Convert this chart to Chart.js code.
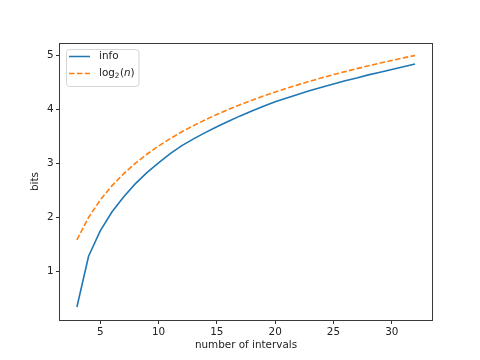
<!DOCTYPE html>
<html>
<head>
<meta charset="utf-8">
<script src="https://cdn.jsdelivr.net/npm/chart.js@4"></script>
<style>
  html, body { margin: 0; padding: 0; background: #fff; }
  #chart { display: block; }
</style>
</head>
<body>
<canvas id="chart" width="480" height="360"></canvas>
<script>
const intervals = [3, 4, 5, 6, 7, 8, 9, 10, 11, 12, 13, 14, 15, 16, 17, 18, 19, 20, 21, 22, 23, 24, 25, 26, 27, 28, 29, 30, 31, 32]
const info = [0.34, 1.28, 1.75, 2.10, 2.38, 2.62, 2.83, 3.01, 3.18, 3.33, 3.455, 3.57, 3.68, 3.78, 3.88, 3.97, 4.06, 4.14, 4.21, 4.28, 4.35, 4.41, 4.47, 4.53, 4.58, 4.64, 4.69, 4.74, 4.79, 4.84]
const log2n = [1.585, 2.00, 2.322, 2.585, 2.807, 3.00, 3.17, 3.322, 3.459, 3.585, 3.70, 3.807, 3.907, 4.00, 4.087, 4.17, 4.248, 4.322, 4.392, 4.459, 4.524, 4.585, 4.644, 4.70, 4.755, 4.807, 4.858, 4.907, 4.954, 5.00]
const xTicks = [5, 10, 15, 20, 25, 30]
const yTicks = [1, 2, 3, 4, 5]

const FONT = 'DejaVu Sans'
const BLUE = '#1f77b4'
const ORANGE = '#ff7f0e'

// box around the axes plus a matplotlib-like legend in the upper left
const frame = {
  id: 'frame',
  afterDraw(chart) {
    const {ctx, chartArea: a} = chart
    ctx.save()
    ctx.strokeStyle = '#3a3a3a'
    ctx.lineWidth = 1
    ctx.strokeRect(Math.round(a.left) - 0.5, Math.round(a.top) + 0.5, Math.round(a.right - a.left) + 1, Math.round(a.bottom - a.top))

    // legend box
    const bx = 66, by = 49, bw = 72.5, bh = 37, r = 3
    ctx.beginPath()
    ctx.roundRect(bx + 0.5, by + 0.5, bw, bh, r)
    ctx.fillStyle = 'rgba(255,255,255,0.8)'
    ctx.fill()
    ctx.strokeStyle = '#d5d5d5'
    ctx.stroke()

    ctx.lineWidth = 1.5
    ctx.strokeStyle = BLUE
    ctx.beginPath()
    ctx.moveTo(69, 56.5)
    ctx.lineTo(90, 56.5)
    ctx.stroke()

    ctx.strokeStyle = ORANGE
    ctx.setLineDash([5.5, 2.4])
    ctx.beginPath()
    ctx.moveTo(69, 73.5)
    ctx.lineTo(90, 73.5)
    ctx.stroke()
    ctx.setLineDash([])

    ctx.fillStyle = '#222'
    ctx.textBaseline = 'middle'
    ctx.textAlign = 'left'
    ctx.font = `10.4px "${FONT}"`
    ctx.fillText('info', 99, 56.5)

    let x = 99
    const y = 73.5
    ctx.fillText('log', x, y)
    x += ctx.measureText('log').width
    ctx.font = `7.3px "${FONT}"`
    ctx.fillText('2', x, y + 3)
    x += ctx.measureText('2').width + 0.5
    ctx.font = `10.4px "${FONT}"`
    ctx.fillText('(', x, y)
    x += ctx.measureText('(').width
    ctx.font = `oblique 10.4px "${FONT}"`
    ctx.fillText('n', x, y)
    x += ctx.measureText('n').width
    ctx.font = `10.4px "${FONT}"`
    ctx.fillText(')', x, y)
    ctx.restore()
  }
}

new Chart(document.getElementById('chart'), {
  type: 'line',
  data: {
    datasets: [
      {
        label: 'info',
        data: intervals.map((n, i) => ({x: n, y: info[i]})),
        borderColor: BLUE,
        borderWidth: 1.6,
        pointRadius: 0,
        tension: 0,
        fill: false
      },
      {
        label: 'log2(n)',
        data: intervals.map((n, i) => ({x: n, y: log2n[i]})),
        borderColor: ORANGE,
        borderWidth: 1.6,
        borderDash: [5.5, 2.4],
        pointRadius: 0,
        tension: 0,
        fill: false
      }
    ]
  },
  options: {
    responsive: false,
    animation: false,
    devicePixelRatio: 1,
    layout: {padding: {top: 43, right: 48, left: 0, bottom: 0}},
    plugins: {
      legend: {display: false},
      tooltip: {enabled: false}
    },
    scales: {
      x: {
        type: 'linear',
        min: 1.55,
        max: 33.45,
        afterBuildTicks: scale => { scale.ticks = xTicks.map(v => ({value: v})) },
        afterFit: scale => { scale.height = 40 },
        grid: {drawOnChartArea: false, tickLength: 4, color: '#333', tickWidth: 1},
        border: {display: false},
        ticks: {padding: 2, color: '#222', font: {family: FONT, size: 10.4}, maxRotation: 0},
        title: {display: true, text: 'number of intervals', color: '#222', font: {family: FONT, size: 10.4}, padding: {top: 0, bottom: 8}}
      },
      y: {
        min: 0.1,
        max: 5.23,
        afterBuildTicks: scale => { scale.ticks = yTicks.map(v => ({value: v})) },
        afterFit: scale => { scale.width = 60 },
        grid: {drawOnChartArea: false, tickLength: 4, color: '#333', tickWidth: 1},
        border: {display: false},
        ticks: {padding: 2.5, color: '#222', font: {family: FONT, size: 10.4}},
        title: {display: true, text: 'bits', color: '#222', font: {family: FONT, size: 10.4}, padding: {top: 29, bottom: 0}}
      }
    }
  },
  plugins: [frame]
})
</script>
</body>
</html>
